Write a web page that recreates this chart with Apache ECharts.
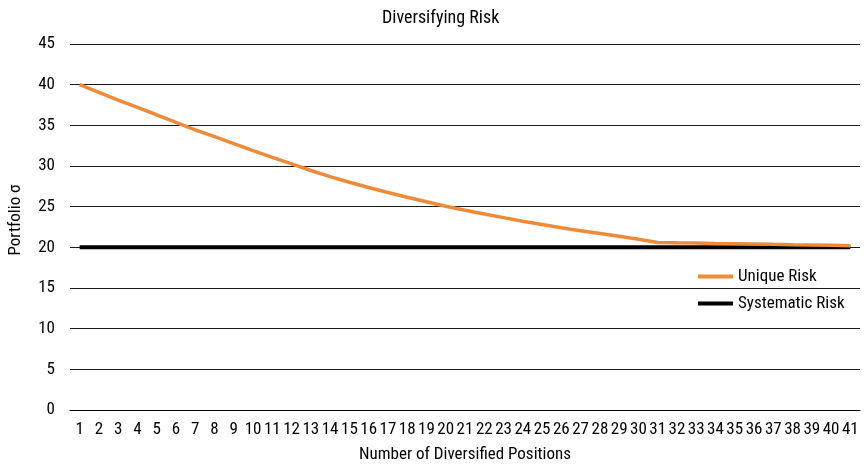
<!DOCTYPE html>
<html>
<head>
<meta charset="utf-8">
<script src="https://cdn.jsdelivr.net/npm/echarts@6/dist/echarts.min.js"></script>
<style>
  html, body { margin: 0; padding: 0; background: #fff; }
  #chart { width: 865px; height: 468px; }
</style>
</head>
<body>
<div id="chart"></div>
<script>
// Number of positions held in the portfolio
const positions = Array.from({ length: 41 }, (_, i) => String(i + 1));

// Total portfolio standard deviation as positions are added
const uniqueRisk = [
  40.0, 39.05, 38.1, 37.2, 36.3, 35.35, 34.45, 33.6, 32.75, 31.9,
  31.05, 30.25, 29.45, 28.7, 28.0, 27.35, 26.75, 26.15, 25.6, 25.05,
  24.55, 24.1, 23.65, 23.2, 22.8, 22.4, 22.05, 21.7, 21.35, 21.0,
  20.6, 20.55, 20.52, 20.48, 20.45, 20.42, 20.37, 20.33, 20.3, 20.25,
  20.2
];

// Market risk floor that cannot be diversified away
const systematicRisk = Array(41).fill(20);

const yTicks = { min: 0, max: 45, interval: 5 };

const FONT = '"Liberation Sans Narrow", "Roboto Condensed", "Arial Narrow", Roboto, sans-serif';

const chart = echarts.init(document.getElementById('chart'), null, { renderer: 'canvas' });

chart.setOption({
  animation: false,
  backgroundColor: '#ffffff',
  textStyle: { fontFamily: FONT, color: '#000' },
  title: {
    text: 'Diversifying Risk',
    left: 377,
    top: 4,
    textStyle: { fontFamily: FONT, fontSize: 18, fontWeight: 'normal', color: '#000' }
  },
  legend: {
    orient: 'vertical',
    left: 698,
    top: 268,
    padding: 0,
    itemWidth: 35,
    itemHeight: 4,
    itemGap: 10,
    icon: 'rect',
    textStyle: { fontFamily: FONT, fontSize: 17, color: '#000' },
    data: ['Unique Risk', 'Systematic Risk']
  },
  grid: { left: 70, right: 5, top: 44, bottom: 58, outerBoundsMode: 'none', containLabel: false },
  xAxis: {
    type: 'category',
    data: positions,
    boundaryGap: true,
    name: 'Number of Diversified Positions',
    nameLocation: 'middle',
    nameGap: 36,
    nameTextStyle: { fontFamily: FONT, fontSize: 17, color: '#000' },
    axisLine: { lineStyle: { color: '#000', width: 1 } },
    axisTick: { show: false },
    axisLabel: { interval: 0, fontFamily: FONT, fontSize: 17, color: '#000', margin: 11 }
  },
  yAxis: {
    type: 'value',
    min: yTicks.min,
    max: yTicks.max,
    interval: yTicks.interval,
    name: 'Portfolio σ',
    nameLocation: 'middle',
    nameGap: 46,
    nameRotate: 90,
    nameTextStyle: { fontFamily: FONT, fontSize: 17, color: '#000', padding: [0, 0, 0, 14] },
    axisLine: { show: false },
    axisTick: { show: false },
    axisLabel: { fontFamily: FONT, fontSize: 17, color: '#000', margin: 15 },
    splitLine: { lineStyle: { color: '#1a1a1a', width: 1 } }
  },
  series: [
    {
      name: 'Systematic Risk',
      type: 'line',
      data: systematicRisk,
      symbol: 'none',
      z: 2,
      lineStyle: { color: '#000', width: 4 },
      itemStyle: { color: '#000' }
    },
    {
      name: 'Unique Risk',
      type: 'line',
      data: uniqueRisk,
      symbol: 'none',
      z: 3,
      lineStyle: { color: '#ED8B3B', width: 3.5 },
      itemStyle: { color: '#ED8B3B' }
    }
  ]
});
</script>
</body>
</html>
